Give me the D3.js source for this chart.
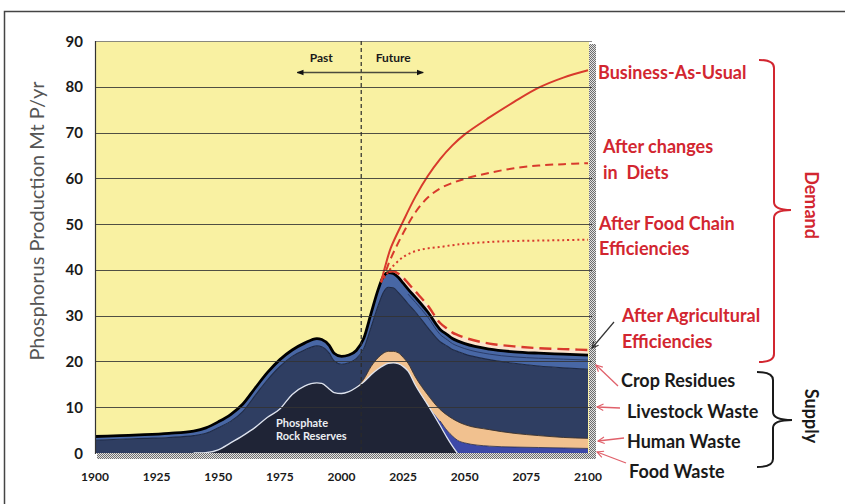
<!DOCTYPE html>
<html><head><meta charset="utf-8">
<script src="https://cdn.jsdelivr.net/npm/d3@7"></script>
<style>
body{margin:0;background:#fff}
svg{display:block}
text{font-family:Lato,"Open Sans",sans-serif}
</style>
</head><body>
<svg id="c" width="845" height="504"></svg>
<script>
// ---------- DATA ----------
const years      = [1900,1910,1920,1930,1940,1945,1950,1955,1960,1965,1970,1975,1980,1985,1990,1992,1995,1997,2000,2003,2006,2009,2012,2015,2017,2019,2021,2023,2025,2027,2030,2035,2040,2043,2045,2047,2050,2060,2070,2080,2090,2100];
// cumulative upper boundaries of the stacked supply layers (Mt P/yr)
const rockTop      = [0,0,0,0,0,0.1,0.7,2.2,3.8,5.6,7.8,9.6,12.8,14.6,15.3,15.2,14.0,13.2,13.0,13.4,14.3,15.5,17.1,18.4,19.1,19.6,19.7,19.5,18.9,17.9,14.8,10.5,6.0,3.2,1.5,0,0,0,0,0,0,0];
const foodTop      = [0,0,0,0,0,0.1,0.7,2.2,3.8,5.6,7.8,9.6,12.8,14.6,15.3,15.2,14.0,13.2,13.0,13.4,14.3,15.5,17.1,18.4,19.1,19.6,19.7,19.5,18.9,17.9,14.8,10.5,7.0,4.8,3.7,2.8,2.2,1.5,1.3,1.2,1.1,1.0];
const humanTop     = [0,0,0,0,0,0.1,0.7,2.2,3.8,5.6,7.8,9.6,12.8,14.6,15.3,15.2,14.0,13.2,13.0,13.4,14.3,16.1,18.9,20.9,21.8,22.2,22.2,21.9,20.9,19.6,16.6,12.7,9.5,8.2,7.5,6.9,6.2,5.1,4.3,3.8,3.4,3.2];
const livestockTop = [2.8,3.0,3.2,3.4,3.8,4.3,5.5,6.9,9.1,12.6,16.0,18.9,21.1,22.5,23.4,23.2,21.8,20.1,19.4,19.7,20.6,22.8,27.5,32.4,35.1,36.2,36.1,35.1,33.9,32.6,30.8,27.4,24.3,23.3,22.6,22.2,21.6,20.4,19.6,19.0,18.6,18.3];
const totalSupply  = [3.6,3.8,4.0,4.3,4.8,5.5,6.8,8.4,10.7,14.2,17.6,20.4,22.5,24.0,25.0,24.8,23.5,21.8,21.1,21.4,22.4,25.0,30.5,35.9,38.6,39.4,39.2,38.4,37.1,35.8,34.0,30.8,27.0,25.8,25.0,24.5,23.9,22.7,22.1,21.8,21.6,21.4];
const cropInnerYears = [2027,2030,2035,2040,2043,2045,2047,2050,2060,2070,2080,2090,2100];
const cropInner      = [34.7,32.9,29.7,25.9,24.7,23.9,23.4,22.8,21.6,21.0,20.7,20.5,20.3];

// demand scenarios
const demandYears = [2016,2018,2020,2025,2030,2035,2040,2045,2050,2060,2070,2080,2090,2100];
const bau         = [37.3,41.3,44.8,50.6,56.0,60.5,64.2,67.2,69.6,73.3,76.7,79.8,82.0,83.6];
const diets       = [37.3,39.8,42.5,48.0,52.6,55.8,57.8,59.0,59.9,61.2,62.2,62.8,63.1,63.3];
const foodChain   = [37.3,38.8,40.3,42.8,44.1,44.7,45.0,45.4,45.7,46.1,46.3,46.4,46.5,46.6];
const agriYears   = [2019,2021,2023,2025,2027,2030,2035,2040,2043,2045,2047,2050,2060,2070,2080,2090,2100];
const agri        = [39.6,39.7,39.2,38.3,37.1,35.3,32.2,28.4,27.1,26.3,25.8,25.2,23.9,23.3,22.9,22.7,22.5];

const yTicks = [0,10,20,30,40,50,60,70,80,90];
const xTicks = [1900,1925,1950,1975,2000,2025,2050,2075,2100];
const dividerYear = 2008;

// ---------- SETUP ----------
const svg = d3.select('#c');
const x = d3.scaleLinear().domain([1900,2100]).range([95,588]);
const y = d3.scaleLinear().domain([0,90]).range([453,41]);
const pL = x(1900), pR = x(2100)+1, pT = y(90), pB = y(0);

const defs = svg.append('defs');
const pat = defs.append('pattern').attr('id','dith').attr('width',2).attr('height',2).attr('patternUnits','userSpaceOnUse');
pat.append('rect').attr('width',2).attr('height',2).attr('fill','#e2e2e2');
pat.append('rect').attr('width',1).attr('height',1).attr('fill','#6e6e6e');
pat.append('rect').attr('x',1).attr('y',1).attr('width',1).attr('height',1).attr('fill','#6e6e6e');
defs.append('clipPath').attr('id','plotclip').append('rect')
  .attr('x',pL).attr('y',pT).attr('width',pR-pL).attr('height',pB-pT);
function mk(id,color,filled){
  const m=defs.append('marker').attr('id',id).attr('viewBox','0 0 10 10').attr('refX',9).attr('refY',5)
    .attr('markerWidth',filled?7:8).attr('markerHeight',filled?7:8).attr('orient','auto-start-reverse').attr('markerUnits','userSpaceOnUse');
  if(filled) m.append('path').attr('d','M0,1 L10,5 L0,9 Z').attr('fill',color);
  else m.append('path').attr('d','M1,1 L9,5 L1,9').attr('fill','none').attr('stroke',color).attr('stroke-width',1.4);
}
mk('arrRed','#e0606a',false); mk('arrBlk','#333',false); mk('arrFill','#111',true);

// outer frame
svg.append('path').attr('d','M4.5,504 V11.5 H845').attr('fill','none').attr('stroke','#444').attr('stroke-width',1.5);

// shadow (dithered) along right & bottom
svg.append('rect').attr('x',pR).attr('y',pT+3).attr('width',7).attr('height',pB-pT+3).attr('fill','url(#dith)');
svg.append('rect').attr('x',pL+2).attr('y',pB).attr('width',pR-pL+5).attr('height',6).attr('fill','url(#dith)');

// plot background
svg.append('rect').attr('x',pL).attr('y',pT).attr('width',pR-pL).attr('height',pB-pT).attr('fill','#f9f1a2');

// ---------- STACKED AREAS ----------
const g = svg.append('g').attr('clip-path','url(#plotclip)');
const curve = d3.curveMonotoneX;
function band(lo, hi, fill){
  const data = years.map((yr,i)=>({yr, lo: lo?lo[i]:0, hi: hi[i]}));
  g.append('path').datum(data)
    .attr('d', d3.area().x(d=>x(d.yr)).y0(d=>y(d.lo)).y1(d=>y(d.hi)).curve(curve))
    .attr('fill', fill);
}
band(null, rockTop, '#1f2436');
band(rockTop, foodTop, '#3d49a8');
band(foodTop, humanTop, '#f1c18f');
band(humanTop, livestockTop, '#2f3e62');
band(livestockTop, totalSupply, '#4867a5');

// peach gap between supply and agricultural efficiency scenario
const i0 = years.indexOf(agriYears[0]);
g.append('path').datum(agriYears.map((yr,i)=>({yr, lo: totalSupply[i0+i], hi: agri[i]})))
  .attr('d', d3.area().x(d=>x(d.yr)).y0(d=>y(d.lo)).y1(d=>y(d.hi)).curve(curve))
  .attr('fill','#fbe4cd');

const line = d3.line().x(d=>x(d[0])).y(d=>y(d[1])).curve(curve);
const sline = d3.line().x(d=>x(d[0])).y(d=>y(d[1])).curve(d3.curveCatmullRom.alpha(0.5));
function yl(arr, yrs){ return (yrs||years).map((yr,i)=>[yr, arr[i]]); }

// layer outlines
g.append('path').attr('d', line(yl(humanTop).filter(d=>d[0]>=2006)))
  .attr('fill','none').attr('stroke','#3b2f2a').attr('stroke-width',0.9);
g.append('path').attr('d', line(yl(foodTop).filter(d=>d[0]>=2038)))
  .attr('fill','none').attr('stroke','#22264a').attr('stroke-width',0.8);
g.append('path').attr('d', line(yl(rockTop).filter(d=>d[0]>=1940 && d[0]<=2047)))
  .attr('fill','none').attr('stroke','#dde2ee').attr('stroke-width',1.3);
g.append('path').attr('d', line(yl(livestockTop)))
  .attr('fill','none').attr('stroke','#1e2a48').attr('stroke-width',1.1);
g.append('path').attr('d', line(yl(cropInner, cropInnerYears)))
  .attr('fill','none').attr('stroke','#2a3c69').attr('stroke-width',1);

// grid lines
svg.append('g').selectAll('line').data(yTicks.filter(d=>d>0)).join('line')
  .attr('x1',pL).attr('x2',pR+3)
  .attr('y1',d=>Math.round(y(d))+0.5).attr('y2',d=>Math.round(y(d))+0.5)
  .attr('stroke',d=>d===90?'#777':'#333').attr('stroke-width',1).attr('opacity',0.85);
svg.append('line').attr('x1',pL+0.5).attr('x2',pL+0.5).attr('y1',pT).attr('y2',pB+1)
  .attr('stroke','#333').attr('stroke-width',1.2);

// total supply black line
g.append('path').attr('d', line(yl(totalSupply)))
  .attr('fill','none').attr('stroke','#000').attr('stroke-width',2.8);

// divider
svg.append('line').attr('x1',x(dividerYear)).attr('x2',x(dividerYear)).attr('y1',pT).attr('y2',pB)
  .attr('stroke','#2a2a2a').attr('stroke-width',1.2).attr('stroke-dasharray','4,3');

// ---------- DEMAND CURVES ----------
const red = '#d83a2c';
g.append('path').attr('d', sline(yl(bau, demandYears))).attr('fill','none').attr('stroke',red).attr('stroke-width',2);
g.append('path').attr('d', sline(yl(diets, demandYears))).attr('fill','none').attr('stroke',red).attr('stroke-width',2).attr('stroke-dasharray','8,5');
g.append('path').attr('d', sline(yl(foodChain, demandYears))).attr('fill','none').attr('stroke',red).attr('stroke-width',2).attr('stroke-dasharray','2,3');
g.append('path').attr('d', line(yl(agri, agriYears))).attr('fill','none').attr('stroke',red).attr('stroke-width',2.4).attr('stroke-dasharray','12,6');

// Past / Future
svg.append('line').attr('x1',x(dividerYear)-64).attr('x2',x(dividerYear)+62).attr('y1',72.5).attr('y2',72.5)
  .attr('stroke','#4a4a3c').attr('stroke-width',1.3)
  .attr('marker-start','url(#arrFill)').attr('marker-end','url(#arrFill)');
svg.append('text').attr('x',x(dividerYear)-40).attr('y',62).attr('text-anchor','middle')
  .attr('font-size',12).attr('font-weight','bold').attr('fill','#1a1a1a').text('Past');
svg.append('text').attr('x',x(dividerYear)+32).attr('y',62).attr('text-anchor','middle')
  .attr('font-size',12).attr('font-weight','bold').attr('fill','#1a1a1a').text('Future');

// Phosphate rock label
svg.append('text').attr('x',276).attr('y',427).attr('font-size',11).attr('font-weight','bold').attr('fill','#eceef2').text('Phosphate');
svg.append('text').attr('x',276).attr('y',440).attr('font-size',11).attr('font-weight','bold').attr('fill','#eceef2').text('Rock Reserves');

// ---------- AXES ----------
svg.append('g').selectAll('text').data(yTicks).join('text')
  .attr('x',83).attr('y',d=>y(d)+5.5).attr('text-anchor','end')
  .attr('font-size',15).attr('font-weight','bold').attr('fill','#1a1a1a').text(d=>d);
svg.append('g').selectAll('text').data(xTicks).join('text')
  .attr('x',d=>x(d)).attr('y',481).attr('text-anchor','middle')
  .attr('font-size',12).attr('font-weight','bold').attr('fill','#1a1a1a').text(d=>d);
svg.append('text').attr('transform','translate(44,221) rotate(-90)').attr('text-anchor','middle')
  .attr('font-size',20).attr('fill','#555').text('Phosphorus Production Mt P/yr');

// ---------- RIGHT ANNOTATIONS ----------
const labRed = '#d22630';
const redLabels = [
  ['Business-As-Usual',598,79],
  ['After changes',603,153],
  ['in  Diets',603,179],
  ['After Food Chain',599,230],
  ['Efficiencies',599,255],
  ['After Agricultural',622,322],
  ['Efficiencies',622,348]
];
svg.append('g').selectAll('text').data(redLabels).join('text')
  .attr('x',d=>d[1]).attr('y',d=>d[2]).attr('font-size',18).attr('font-weight','bold')
  .attr('fill',labRed).style('white-space','pre').text(d=>d[0]);
const blkLabels = [
  ['Crop Residues',621,387],
  ['Livestock Waste',627,418],
  ['Human Waste',627,448],
  ['Food Waste',629,478]
];
svg.append('g').selectAll('text').data(blkLabels).join('text')
  .attr('x',d=>d[1]).attr('y',d=>d[2]).attr('font-size',18).attr('font-weight','bold')
  .attr('fill','#1a1a1a').text(d=>d[0]);

// pointer arrows
svg.append('line').attr('x1',614).attr('y1',322).attr('x2',592).attr('y2',348)
  .attr('stroke','#333').attr('stroke-width',1.2).attr('marker-end','url(#arrBlk)');
const redArrows = [[618,386,596,365],[620,408,597,407],[624,438,598,441],[626,463,597,452]];
svg.append('g').selectAll('line').data(redArrows).join('line')
  .attr('x1',d=>d[0]).attr('y1',d=>d[1]).attr('x2',d=>d[2]).attr('y2',d=>d[3])
  .attr('stroke','#e0606a').attr('stroke-width',1.3).attr('marker-end','url(#arrRed)');

// braces
svg.append('path').attr('d','M759,60 Q774,60 774,68 V202 Q774,210 791,210 Q774,210 774,218 V354 Q774,362 759,362')
  .attr('fill','none').attr('stroke',labRed).attr('stroke-width',2);
svg.append('path').attr('d','M757,372 Q773,372 773,380 V412 Q773,420 792,420 Q773,420 773,428 V459 Q773,467 757,467')
  .attr('fill','none').attr('stroke','#1a1a1a').attr('stroke-width',2);
svg.append('text').attr('transform','translate(805,205) rotate(90)').attr('text-anchor','middle')
  .attr('font-size',18).attr('font-weight','bold').attr('fill',labRed).text('Demand');
svg.append('text').attr('transform','translate(805,416) rotate(90)').attr('text-anchor','middle')
  .attr('font-size',18).attr('font-weight','bold').attr('fill','#1a1a1a').text('Supply');
</script>
</body></html>
